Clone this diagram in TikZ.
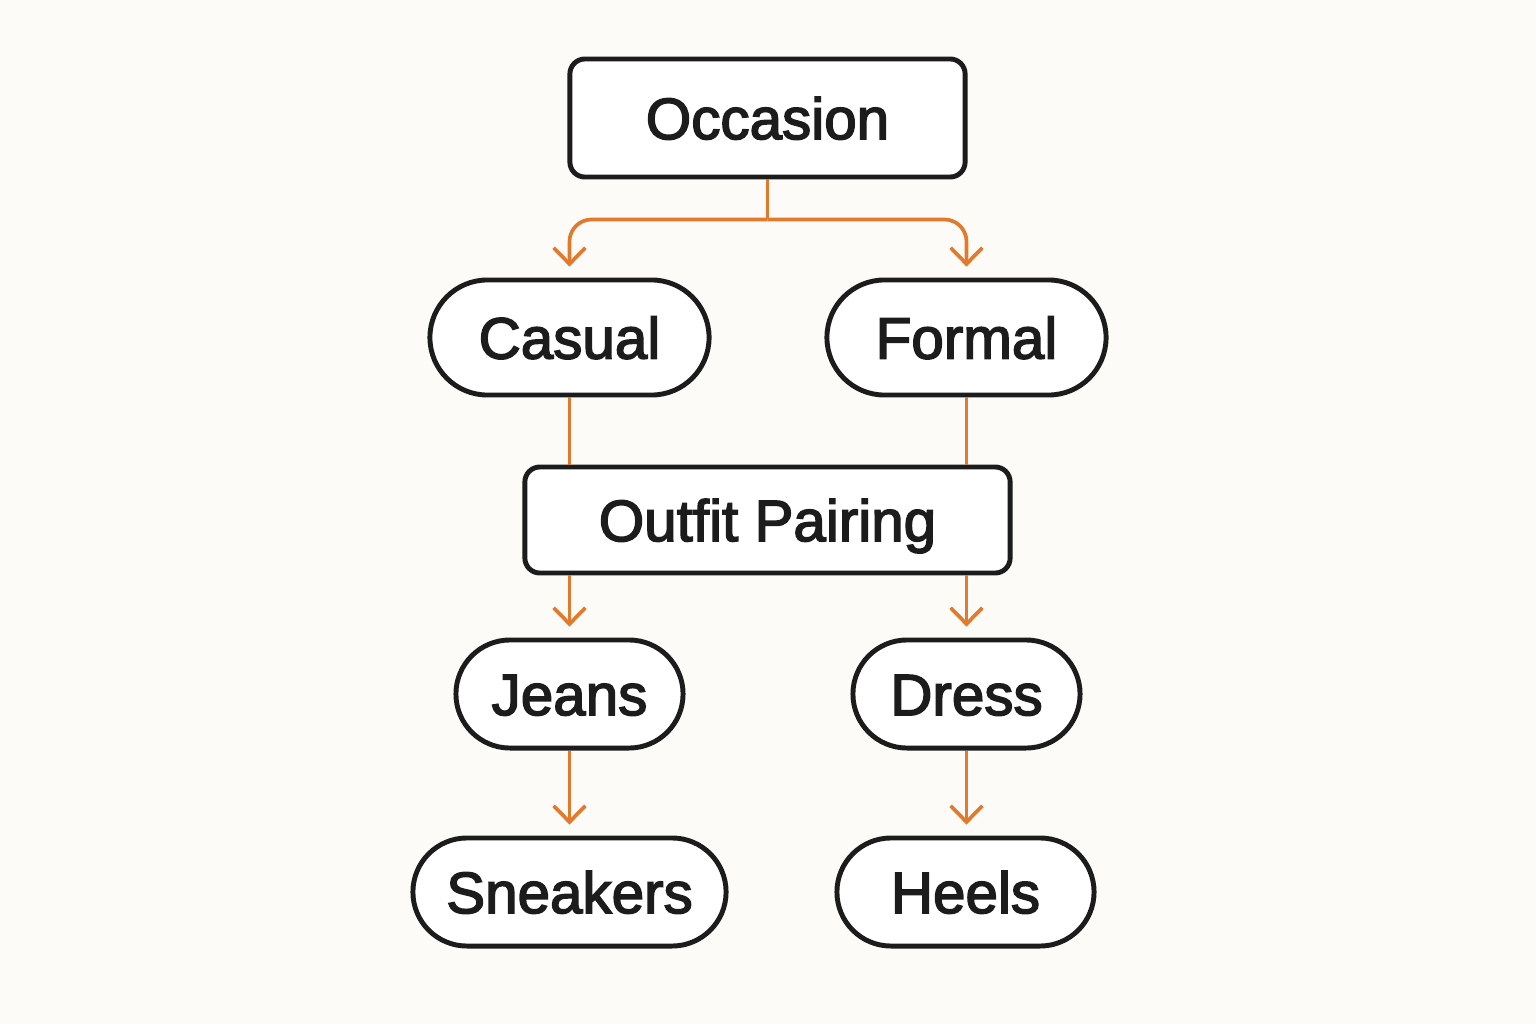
\documentclass[tikz,border=0pt]{standalone}
\usepackage{fontspec}
\setmainfont{Liberation Sans}
\newfontfamily\labfont{Liberation Sans}[FakeBold=2.6]
\usetikzlibrary{arrows.meta,shapes.misc,calc}
\definecolor{bg}{HTML}{FCFBF8}
\definecolor{edge}{HTML}{E27A2E}
\definecolor{ink}{HTML}{1C1C1C}
\begin{document}
\begin{tikzpicture}[x=0.01cm,y=-0.01cm,
  base/.style={draw=ink, line width=1.4pt, fill=white, text=ink,
    font=\labfont\fontsize{16.6}{20}\selectfont, inner sep=0pt,
    text height=12pt, text depth=0pt},
  box/.style={base, rectangle, rounded corners=0.15cm},
  pill/.style={base, rounded rectangle},
  conn/.style={draw=edge, line width=1.05pt},
  arr/.style={conn, -{Straight Barb[length=4.6pt,width=9pt,line width=1.05pt]}, shorten >=3.1pt}
]
\fill[bg] (0,0) rectangle (1536,1024);
\useasboundingbox (0,0) rectangle (1536,1024);

\node[box, minimum width=3.95cm, minimum height=1.18cm] (occ) at (767.5,118) {Occasion};
\node[pill, minimum width=2.79cm, minimum height=1.15cm] (cas) at (569.5,337.5) {Casual};
\node[pill, minimum width=2.79cm, minimum height=1.15cm] (frm) at (966.5,337.5) {Formal};
\node[box, minimum width=4.85cm, minimum height=1.06cm] (out) at (767.5,520) {Outfit Pairing};
\node[pill, minimum width=2.27cm, minimum height=1.08cm] (jea) at (569.5,694) {Jeans};
\node[pill, minimum width=2.27cm, minimum height=1.08cm] (drs) at (966.5,694) {Dress};
\node[pill, minimum width=3.13cm, minimum height=1.08cm] (snk) at (569.5,892) {Sneakers};
\node[pill, minimum width=2.57cm, minimum height=1.08cm] (hel) at (965.5,892) {Heels};

\coordinate (fork) at ($(occ.south)+(0,40)$);
\draw[conn] (occ.south) -- (fork);
\draw[arr, rounded corners=0.22cm] (fork) -| (cas.north);
\draw[arr, rounded corners=0.22cm] (fork) -| (frm.north);

\draw[conn] (cas.south) -- (cas.south |- out.north);
\draw[conn] (frm.south) -- (frm.south |- out.north);

\draw[arr] (jea.north |- out.south) -- (jea.north);
\draw[arr] (drs.north |- out.south) -- (drs.north);

\draw[arr] (jea.south) -- (snk.north);
\draw[arr] (drs.south) -- (drs.south |- hel.north);
\end{tikzpicture}
\end{document}
